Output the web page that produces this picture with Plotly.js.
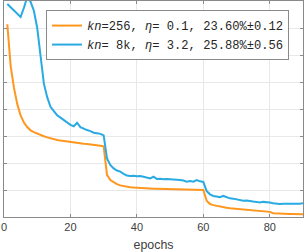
<!DOCTYPE html>
<html>
<head>
<meta charset="utf-8">
<script src="https://cdn.plot.ly/plotly-3.0.1.min.js"></script>
<style>
html,body{margin:0;padding:0;background:#fff;}
#chart{width:305px;height:252px;}
</style>
</head>
<body>
<div id="chart"></div>
<script>
// epochs 1..90
const epochs = Array.from({length: 90}, (_, i) => i + 1);

const orangeLabel = '<i>kn</i>=256, <i>η</i>= 0.1, 23.60%±0.12';
const blueLabel = '<i>kn</i>= 8k, <i>η</i>= 3.2, 25.88%±0.56';

const orangeValues = [
  91.4, 76.0, 67.8, 61.8, 57.6, 55.0, 53.3, 52.1, 51.4, 50.8,
  50.3, 49.9, 49.5, 49.1, 48.8, 48.5, 48.3, 48.1, 47.9, 47.7,
  47.6, 47.4, 47.3, 47.1, 47.0, 46.9, 46.7, 46.6, 46.4, 46.2,
  35.6, 33.7, 32.8, 32.2, 31.7, 31.4, 31.2, 31.0, 30.9, 30.8,
  30.7, 30.65, 30.6, 30.55, 30.5, 30.5, 30.45, 30.4, 30.4, 30.35,
  30.35, 30.3, 30.3, 30.25, 30.2, 30.2, 30.15, 30.1, 30.05, 30.0,
  26.0, 24.8, 24.4, 24.1, 23.8, 23.6, 23.4, 23.2, 23.1, 23.0,
  22.9, 22.8, 22.65, 22.5, 22.4, 22.3, 22.2, 22.1, 22.0, 21.9,
  21.4, 21.3, 21.25, 21.2, 21.15, 21.1, 21.1, 21.05, 21.05, 21.0
];

const blueValues = [
  98.9, 97.7, 96.5, 95.3, 94.1, 97.5, 101.5, 99.7, 96.4, 90.0,
  80.0, 69.4, 64.4, 60.8, 59.2, 57.7, 56.8, 55.8, 54.9, 54.1,
  53.6, 54.9, 53.3, 52.6, 52.2, 51.8, 51.2, 51.0, 50.8, 50.2,
  41.7, 39.3, 38.0, 37.2, 36.8, 36.0, 35.4, 35.2, 35.3, 35.1,
  35.2, 34.9, 34.7, 34.3, 34.9, 34.1, 34.2, 34.0, 34.1, 34.0,
  34.1, 33.9, 33.7, 33.5, 33.1, 33.3, 33.1, 33.7, 33.2, 33.0,
  29.6, 28.4, 27.8, 27.6, 27.3, 27.8, 27.3, 26.9, 26.8, 26.6,
  26.4, 26.0, 26.1, 25.8, 25.7, 25.6, 25.4, 25.6, 25.6, 25.4,
  25.1, 24.9, 24.8, 24.9, 24.9, 24.8, 24.8, 24.9, 24.9, 25.1
];

const xTickVals = [0, 20, 40, 60, 80];
const xTickText = ['0', '20', '40', '60', '80'];
const xTitle = 'epochs';

const axisColor = '#8a8a8a';
const gridColor = '#e8e8e8';

const traces = [
  {x: epochs, y: orangeValues, type: 'scatter', mode: 'lines', name: orangeLabel,
   line: {color: '#ff961e', width: 2}},
  {x: epochs, y: blueValues, type: 'scatter', mode: 'lines', name: blueLabel,
   line: {color: '#29aae2', width: 2}}
];

const layout = {
  width: 305, height: 252,
  margin: {l: 4, r: 2, t: 1, b: 35, pad: 0},
  paper_bgcolor: '#fff', plot_bgcolor: '#fff',
  showlegend: true,
  legend: {
    x: 0.1405, y: 0.958, xanchor: 'left', yanchor: 'top',
    bgcolor: '#fff', bordercolor: '#8a8a8a', borderwidth: 1,
    font: {family: 'Liberation Mono, DejaVu Sans Mono, monospace', size: 12.1, color: '#262626'},
    tracegroupgap: 0
  },
  xaxis: {
    range: [0, 90], tickmode: 'array', tickvals: xTickVals, ticktext: xTickText,
    showgrid: true, gridcolor: gridColor, gridwidth: 1, zeroline: false,
    showline: true, linecolor: axisColor, linewidth: 1, mirror: 'ticks',
    ticks: 'inside', ticklen: 3, tickcolor: axisColor,
    tickfont: {family: 'Liberation Sans, Arial, sans-serif', size: 11, color: '#404040'},
    title: {text: xTitle, font: {family: 'Liberation Sans, Arial, sans-serif', size: 12.4, color: '#404040'}, standoff: 8}
  },
  yaxis: {
    range: [20, 100], dtick: 10, tick0: 20,
    showticklabels: false,
    showgrid: true, gridcolor: gridColor, gridwidth: 1, zeroline: false,
    showline: true, linecolor: axisColor, linewidth: 1, mirror: 'ticks',
    ticks: 'inside', ticklen: 3, tickcolor: axisColor
  }
};

Plotly.newPlot('chart', traces, layout, {displayModeBar: false, staticPlot: true});
</script>
</body>
</html>
